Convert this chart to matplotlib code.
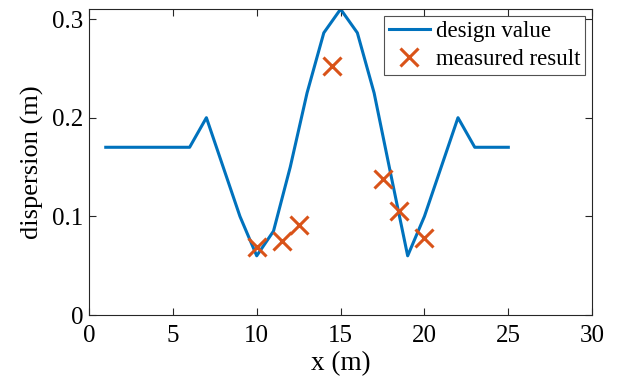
import numpy as np
import matplotlib.pyplot as plt

plt.rcParams['font.family'] = ['Liberation Serif', 'DejaVu Serif']
plt.rcParams['mathtext.fontset'] = 'stix'

# design curve
x_design = [1, 6, 7, 8, 9, 10, 11, 12, 13, 14, 15, 16, 17, 18, 19, 20, 21, 22, 23, 25]
y_design = [0.17, 0.17, 0.20, 0.15, 0.10, 0.06, 0.085, 0.15, 0.225, 0.286, 0.31,
            0.286, 0.225, 0.142, 0.06, 0.10, 0.15, 0.20, 0.17, 0.17]

# measurements
x_meas = [10.0, 11.5, 12.5, 14.5, 17.5, 18.5, 20.0]
y_meas = [0.069, 0.075, 0.091, 0.252, 0.138, 0.105, 0.078]

fig = plt.figure(figsize=(6.24, 3.81), dpi=100)
ax = fig.add_axes([0.1426, 0.1732, 0.8064, 0.8028])

ax.plot(x_design, y_design, color='#0072BD', lw=2.2, label='design value')
ax.plot(x_meas, y_meas, ls='none', marker='x', ms=13, mew=2.2,
        color='#D95319', label='measured result')

ax.set_xlim(0, 30)
ax.set_ylim(0, 0.31)
ax.set_xticks([0, 5, 10, 15, 20, 25, 30])
ax.set_yticks([0, 0.1, 0.2, 0.3])
ax.set_yticklabels(['0', '0.1', '0.2', '0.3'])
ax.tick_params(direction='in', top=True, right=True, length=5, width=0.8,
               labelsize=18, colors='#262626', labelcolor='black')
ax.tick_params(axis='x', pad=7)
ax.tick_params(axis='y', pad=4)
for s in ax.spines.values():
    s.set_linewidth(0.8)
    s.set_color('#262626')

ax.set_xlabel('x (m)', fontsize=19.5, labelpad=3)
ax.set_ylabel('dispersion (m)', fontsize=19, labelpad=6)

leg = ax.legend(loc='upper right', fontsize=16.5, frameon=True, fancybox=False,
                edgecolor='#262626', borderpad=0.22, handlelength=1.8,
                handletextpad=0.25, labelspacing=0.28, borderaxespad=0.3)
leg.get_frame().set_linewidth(0.8)

fig.savefig('out.png', dpi=100)
